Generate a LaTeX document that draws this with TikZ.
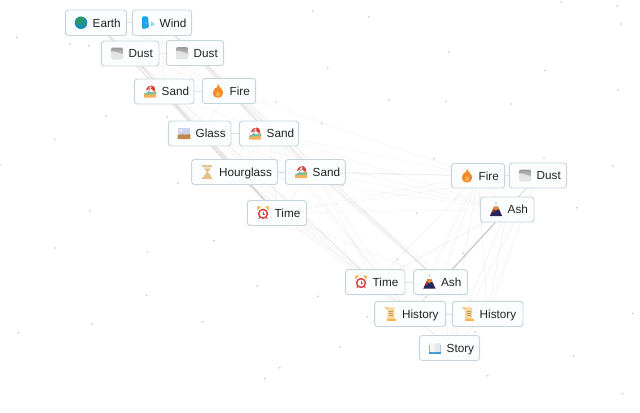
\documentclass[tikz,border=0pt]{standalone}
\usepackage{fontspec}
\setmainfont{Liberation Sans}
\usetikzlibrary{backgrounds}
\definecolor{boxline}{HTML}{C6D4DE}
\definecolor{boxfill}{HTML}{FBFDFE}
\definecolor{inkc}{HTML}{222222}
\definecolor{edgec}{HTML}{9A9A9A}
\tikzset{
 x=0.75pt,y=-0.75pt,
 elembox/.style={draw=boxline,fill=boxfill,line width=.7pt,rounded corners=2.2pt,inner sep=0pt,text height=7.4pt,text depth=1pt,font=\fontsize{8.8pt}{10pt}\selectfont,text=inkc},
 pair/.style={draw=edgec,opacity=.3,line width=.6pt},
 band/.style={draw=edgec,opacity=.11,line width=.55pt},
 thin edge/.style={draw=edgec,opacity=.17,line width=.4pt},
 faint/.style={draw=edgec,opacity=.12,line width=.4pt},
 strong/.style={draw=edgec,opacity=.45,line width=.7pt},
}
\newcommand{\elem}[7]{%
 \pgfmathsetlengthmacro\elw{(#3-#2)*.75}%
 \pgfmathsetlengthmacro\elh{(#5-#4)*.75}%
 \node[elembox,minimum height=\elh] (#1) at ({(#2+#3)/2},{(#4+#5)/2}) {\makebox[\elw][l]{\hspace{20.55pt}#7}};
 \begin{scope}[shift={({#2+15.7},{(#4+#5)/2})}]#6\end{scope}}
\definecolor{earthblue}{HTML}{1C8DB5}
\definecolor{earthgreen}{HTML}{2C9A5E}
\definecolor{windblue}{HTML}{1FA2EA}
\definecolor{sandor}{HTML}{F2B35A}
\definecolor{sandte}{HTML}{6CC0A8}
\definecolor{umbred}{HTML}{D8403C}
\definecolor{fireor}{HTML}{F58A2C}
\definecolor{firey}{HTML}{F9B34A}
\definecolor{tanc}{HTML}{E8C078}
\definecolor{scrollc}{HTML}{F7D79C}
\definecolor{bookblue}{HTML}{3D9BD6}
\newcommand{\icEarth}{\fill[earthblue] (0,0) circle (6.3);
 \fill[earthgreen] (-5.5,-2.5) .. controls (-2,-6) and (2,-6.5) .. (3,-4.5) .. controls (4,-2) and (1,-1) .. (0,1) .. controls (-1,3) and (-3,3) .. (-4,1) -- cycle;
 \fill[earthgreen] (2,1) .. controls (4,0) and (6,0) .. (5.6,2) .. controls (4,4) and (2,4) .. cycle;}
\newcommand{\icWind}{\fill[rounded corners=1pt,windblue] (-6,-6.5) -- (0,-6.5) -- (1,5) -- (-6,6.5) -- cycle;
 \fill[cyan!45] (3,-1.5) -- (7,1.5) -- (3,3.5) -- cycle;
 \fill[white] (-2,0.2) circle (.6);}
\newcommand{\icDust}{\shade[rounded corners=1.5pt,top color=gray!80,bottom color=gray!22] (-6,-6) rectangle (6,6);
 \fill[gray!15,opacity=.8] (-6,-2) .. controls (-2,-3) and (2,0) .. (6,1) -- (6,5) -- (-6,5) -- cycle;}
\newcommand{\icSand}{\fill[sandor] (-6,6) -- (-6,2) -- (6,-.5) -- (6,6) -- cycle;
 \fill[sandte] (-6,3) -- (-2,.5) -- (6,1) -- (6,2.5) -- (-3,3) -- cycle;
 \fill[umbred] (-4,-1) .. controls (-4,-5) and (1,-7) .. (4,-5) -- cycle;
 \fill[umbred] (1.5,-6) .. controls (4,-6) and (6,-3) .. (4.5,0) -- (.5,-3) -- cycle;
 \fill[white] (-1.5,-3) -- (1,-5.2) -- (1.5,-3.5) -- cycle;
 \draw[gray,line width=.4pt] (0,-2.5) -- (-2,1.5);}
\newcommand{\icFire}{\fill[fireor] (0,-7) .. controls (1,-3.5) and (5.3,-2) .. (5,2) .. controls (4.8,5.5) and (2,6.8) .. (0,6.8) .. controls (-2.5,6.8) and (-5,5.2) .. (-5,2) .. controls (-5,-.5) and (-3.5,-1.5) .. (-2.8,-3) .. controls (-2,-1.5) and (-1,-3.5) .. (0,-7) -- cycle;
 \fill[firey] (0,0) .. controls (1.5,2) and (2.6,3) .. (2,4.5) .. controls (1,6) and (-1.2,6) .. (-2,4.5) .. controls (-2.5,3) and (-1,2) .. (0,0) -- cycle;}
\newcommand{\icGlass}{\fill[cyan!40!blue!20] (-6.3,-5.5) rectangle (6.3,5.5);
 \fill[white,opacity=.7] (-3,-3) circle (1.5);
 \fill[orange!65!black!70] (-6.3,1.5) .. controls (-2,0) and (2,2) .. (6.3,.5) -- (6.3,5.5) -- (-6.3,5.5) -- cycle;}
\newcommand{\icHour}{\fill[tanc] (-5,-7) rectangle (5,-5.4); \fill[tanc] (-5,5.4) rectangle (5,7);
 \fill[gray!25] (-3.8,-5.4) -- (3.8,-5.4) -- (3.8,-3.5) -- (.6,0) -- (3.8,3.5) -- (3.8,5.4) -- (-3.8,5.4) -- (-3.8,3.5) -- (-.6,0) -- (-3.8,-3.5) -- cycle;
 \fill[tanc] (-3,-3.2) -- (3,-3.2) -- (.3,0) -- (3.5,5.4) -- (-3.5,5.4) -- (-.3,0) -- cycle;}
\newcommand{\icTime}{\fill[firey] (-6,-6.5) -- (-2,-6.8) -- (-5.5,-2.5) -- cycle; \fill[firey] (6,-6.5) -- (2,-6.8) -- (5.5,-2.5) -- cycle;
 \draw[umbred,line width=1.1pt,fill=white] (0,.8) circle (4.4);
 \draw[umbred,line width=.6pt] (0,-1.5) -- (0,1) -- (1.5,1);
 \draw[umbred,line width=.6pt] (-3,4) -- (-4.4,6); \draw[umbred,line width=.6pt] (3,4) -- (4.4,6);}
\newcommand{\icAsh}{\fill[blue!25!black!85] (-6.2,6.5) -- (-1.8,-3) -- (1.8,-3) -- (6.2,6.5) -- cycle;
 \fill[fireor] (-1.8,-3) -- (1.8,-3) -- (3.3,.5) -- (1.3,-.5) -- (0,1.5) -- (-1.2,-.2) -- (-3.3,.5) -- cycle;
 \fill[umbred!80!black] (-4,2) -- (-2.5,0) -- (-1.2,1) -- (-3,3.5) -- cycle;
 \fill[gray!50] (0,-6.5) circle (.9);}
\newcommand{\icHist}{\fill[scrollc] (-4.5,-6.5) -- (4,-6.5) -- (4,5) -- (6,5) -- (6,6.5) -- (-3,6.5) -- (-3,-4.5) -- cycle;
 \fill[tanc] (-6,-6.8) -- (-3,-6.5) -- (-3,-4) -- cycle;
 \fill[firey] (-3,4.8) -- (6,4.8) -- (6,6.6) -- (-3,6.6) -- cycle;
 \draw[tanc!80!black,line width=.3pt] (-1.5,-2.5) -- (2.5,-2.5) (-1.5,-.5) -- (2.5,-.5) (-1.5,1.5) -- (2.5,1.5);}
\newcommand{\icStory}{\fill[bookblue] (-6.3,-3.5) rectangle (6.3,6);
 \fill[gray!8] (-5.5,-5) -- (-.2,-4.2) -- (-.2,4.2) -- (-5.5,3.8) -- cycle;
 \fill[gray!18] (5.5,-5) -- (.2,-4.2) -- (.2,4.2) -- (5.5,3.8) -- cycle;}
\begin{document}
\begin{tikzpicture}
\useasboundingbox (0,0) rectangle (640,412);
\foreach \p/\q in {16.7/37.3,70/43.7,89/45.7,312.7/11.3,276.3/102.3,106/116.3,167/117,54.7/139.3,177.7/183,0/165,369/17,561.3/1.7,617.3/5.7,621/24,449/52,327.7/68.3,545/70.7,618.3/89.7,389/100,446/101.3,511/104,321.7/123.3,434/158.7,544/158,612.7/165.7,342.7/185.3,89.7/211,55/248,147.7/252.3,214/240.7,257.3/285.7,146.7/295.3,318.3/296.3,91.7/323.7,202.7/321.7,18.3/332.7,279.7/367.7,264.7/378.7,417/213,576.7/207.7,397.3/259.3,463.3/253.3,367/316.7,632.7/313.3,475/332,340/347,573.3/356,487.7/375.7,622.3/393.7}
 \fill[gray!50] (\p,\q) circle (.85);
\elem{earth}{65.3}{126.7}{10}{35.5}{\icEarth}{Earth}
\elem{wind}{132.3}{191.7}{10}{35.5}{\icWind}{Wind}
\elem{dusta}{101.3}{159}{41}{66}{\icDust}{Dust}
\elem{dustb}{166.3}{223.7}{40.5}{65.5}{\icDust}{Dust}
\elem{sanda}{134.3}{194}{79}{104}{\icSand}{Sand}
\elem{firea}{202.3}{255.7}{78.5}{103.5}{\icFire}{Fire}
\elem{glass}{168.3}{231}{121}{146}{\icGlass}{Glass}
\elem{sandb}{239.3}{298.7}{121}{146}{\icSand}{Sand}
\elem{hour}{191.7}{277.7}{159.5}{184.5}{\icHour}{Hourglass}
\elem{sandc}{285.3}{345.3}{159.5}{184.5}{\icSand}{Sand}
\elem{timea}{247.3}{306.7}{200.5}{225.5}{\icTime}{Time}
\elem{fireb}{451.3}{504.7}{163.5}{188}{\icFire}{Fire}
\elem{dustc}{509.3}{566.7}{163}{188}{\icDust}{Dust}
\elem{asha}{480.3}{534}{197}{222}{\icAsh}{Ash}
\elem{timeb}{345.3}{405}{269.7}{294.7}{\icTime}{Time}
\elem{ashb}{413.7}{467.7}{269.7}{294.7}{\icAsh}{Ash}
\elem{hista}{374.7}{445.7}{301.3}{326.5}{\icHist}{History}
\elem{histb}{452.3}{523}{301.3}{326.5}{\icHist}{History}
\elem{story}{419.3}{479.7}{335.5}{360.5}{\icStory}{Story}
\begin{pgfonlayer}{background}
\foreach \a/\b in {earth/wind,dusta/dustb,sanda/firea,glass/sandb,hour/sandc,fireb/dustc,timeb/ashb,hista/histb}
 \draw[pair] (\a.center) -- (\b.center);
% upper group
\foreach \a/\b in {earth/dusta,earth/dustb,earth/sanda,earth/firea,earth/glass,earth/hour,earth/timea,earth/timeb,earth/timea,
 wind/dusta,wind/dustb,wind/sanda,wind/firea,wind/sandb,wind/sandc,wind/ashb,wind/sandb,
 dusta/sanda,dusta/firea,dusta/glass,dusta/hour,dusta/timea,dusta/timeb,dusta/timea,
 dustb/sanda,dustb/firea,dustb/sandb,dustb/sandc,dustb/ashb,dustb/sandb,
 sanda/glass,sanda/sandb,sanda/hour,sanda/timea,sanda/timeb,sanda/timea,
 firea/glass,firea/sandb,firea/sandc,firea/ashb,firea/hista,
 glass/hour,glass/sandc,glass/timea,glass/timeb,glass/timea,
 sandb/hour,sandb/sandc,sandb/timea,sandb/ashb,sandb/hista,
 hour/timea,hour/timeb,hour/timea,hour/hista,
 sandc/timea,sandc/timeb,sandc/ashb,sandc/hista,sandc/histb,
 timea/timeb,timea/ashb,timea/hista}
 \draw[band] (\a.center) -- (\b.center);
% long, faint lines
\foreach \a/\b in {sandc/fireb,sandc/fireb,timea/fireb,timea/asha,sandb/fireb,hour/fireb,glass/asha,sandc/asha,sandb/asha,firea/fireb,timea/dustc,hour/asha}
 \draw[faint] (\a.center) -- (\b.center);
% lower group
\foreach \a/\b in {fireb/asha,dustc/asha,fireb/timeb,fireb/ashb,fireb/hista,fireb/histb,fireb/story,
 dustc/ashb,dustc/hista,dustc/histb,dustc/story,
 asha/timeb,asha/hista,asha/histb,asha/story,
 timeb/hista,timeb/histb,timeb/story,
 ashb/hista,ashb/histb,ashb/story,
 hista/story,histb/story}
 \draw[thin edge] (\a.center) -- (\b.center);
\draw[strong] (asha.center) -- (ashb.center);
\draw[band] (dustc.center) -- (asha.center);
\end{pgfonlayer}
\end{tikzpicture}
\end{document}
